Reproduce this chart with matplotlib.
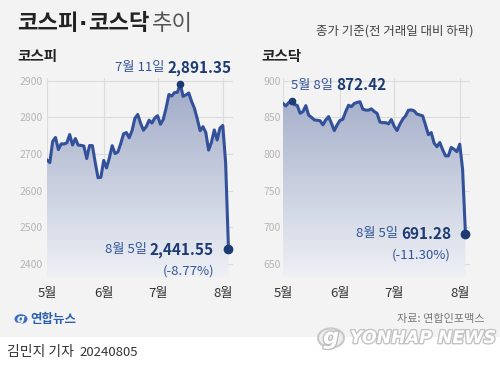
import numpy as np
import pandas as pd
import matplotlib
matplotlib.use("Agg")
import matplotlib.pyplot as plt
from matplotlib.colors import LinearSegmentedColormap
from matplotlib.patches import Rectangle, Circle
import matplotlib.patheffects as pe

plt.rcParams['font.family'] = ['Noto Sans CJK KR', 'DejaVu Sans']

# trading days 2024-05-02 .. 2024-08-05 (Korean holidays removed)
holidays = ['2024-05-06', '2024-05-15', '2024-06-06']
dates = pd.bdate_range('2024-05-02', '2024-08-05')
dates = dates[~dates.isin(pd.to_datetime(holidays))]

kospi = [2683.65, 2676.63, 2734.36, 2745.05, 2712.14, 2727.63, 2727.21, 2730.34, 2753.00, 2724.62,
         2742.14, 2724.18, 2723.46, 2721.81, 2687.60, 2722.99, 2722.85, 2677.30, 2635.44, 2636.52,
         2682.52, 2662.10, 2689.50, 2722.67, 2701.17, 2705.40, 2728.17, 2754.89, 2758.42, 2744.10,
         2763.92, 2797.33, 2807.63, 2784.06, 2764.73, 2774.39, 2792.05, 2784.26, 2797.82,
         2804.31, 2780.86, 2794.01, 2824.94, 2862.23, 2857.76, 2867.38, 2867.99, 2891.35, 2857.00,
         2860.92, 2866.09, 2843.09, 2824.35, 2795.46, 2763.51, 2774.52, 2758.72, 2710.65, 2731.90,
         2765.52, 2738.19, 2770.69,
         2777.68, 2676.19, 2441.55]

kosdaq = [868.93, 865.59, 870.15, 872.42, 867.48, 866.30, 855.60, 857.90, 866.00, 853.00,
          850.00, 846.50, 846.00, 845.40, 839.90, 846.50, 851.00, 842.00, 831.90, 839.90,
          845.80, 847.50, 858.00, 866.50, 864.70, 868.90, 870.40, 871.30, 861.20, 859.90,
          859.80, 861.60, 858.00, 855.50, 843.60, 842.80, 842.80, 841.20, 847.00,
          838.00, 831.99, 840.70, 847.50, 852.00, 859.70, 860.20, 858.90, 854.50, 853.30,
          852.00, 839.50, 826.50, 829.30, 815.00, 810.00, 815.70, 806.00, 797.60, 797.50,
          809.00, 806.50, 803.20,
          813.50, 779.30, 691.28]

kospi_ticks = [2400, 2500, 2600, 2700, 2800, 2900]
kosdaq_ticks = [650, 700, 750, 800, 850, 900]
month_labels = ['5월', '6월', '7월', '8월']

W, H = 500, 369
BG = '#f3f3f3'
LINE = '#33509a'
NAVY = '#1d3b73'
BLUE_TXT = '#345597'

fig = plt.figure(figsize=(W / 100, H / 100), dpi=100)
fig.patch.set_facecolor(BG)
fig.patches.append(Rectangle((0, 0), 1, (H - 337) / H, transform=fig.transFigure,
                             facecolor='white', edgecolor='none', zorder=0))

def px_axes(l, t, r, b):
    return fig.add_axes([l / W, 1 - b / H, (r - l) / W, (b - t) / H])

# month tick positions = first trading day of each month
xs = np.arange(len(dates))
month_pos = [int(np.argmax(dates.month == m)) for m in [5, 6, 7, 8]]

cmap = LinearSegmentedColormap.from_list('g', ['#eef0f5', '#9ea9c6'])

def panel(ax, vals, ticks, ylim, ypad):
    ax.set_facecolor('none')
    ax.set_xlim(0, 65.6)
    ax.set_ylim(*ylim)
    for s in ax.spines.values():
        s.set_visible(False)
    ax.set_yticks(ticks)
    ax.set_xticks(month_pos)
    ax.set_xticklabels(month_labels)
    ax.tick_params(axis='y', length=0, labelsize=7.5, labelcolor='#b5b5b5', pad=ypad)
    ax.tick_params(axis='x', length=0, labelsize=9.5, labelcolor='#333333', pad=7)
    ax.grid(True, color='#dcdcdc', lw=0.8)
    ax.set_axisbelow(True)
    poly = ax.fill_between(xs, vals, ylim[0], color='none')
    grad = np.linspace(0, 1, 256).reshape(-1, 1)
    im = ax.imshow(grad, cmap=cmap, aspect='auto', origin='lower',
                   extent=[0, 65.6, ylim[0], ylim[1]], zorder=1)
    im.set_clip_path(poly.get_paths()[0], transform=ax.transData)
    ax.plot(xs, vals, color=LINE, lw=2.2, zorder=3, solid_joinstyle='round')
    ax.plot(xs[-1], vals[-1], 'o', color=NAVY, ms=6, zorder=4)

ax1 = px_axes(47, 78, 233, 277)
panel(ax1, kospi, kospi_ticks, (2365, 2907), 3)
pk = int(np.argmax(kospi))
ax1.plot(xs[pk], kospi[pk], 'o', color=NAVY, ms=4.5, zorder=4)

ax2 = px_axes(283, 78, 470, 277)
panel(ax2, kosdaq, kosdaq_ticks, (632.3, 903.7), 1.5)
pq = int(np.argmax(kosdaq))
ax2.plot(xs[pq], kosdaq[pq], 'o', color=NAVY, ms=4.5, zorder=4)

def ftext(x, y, s, **kw):
    return fig.text(x / W, 1 - y / H, s, **kw)

fig.canvas.draw()
rend = fig.canvas.get_renderer()

def after(t, gap=0):
    return t.get_window_extent(rend).x1 + gap

def label(x, y, date_s, val_s, pct=None):
    t = ftext(x, y, date_s, ha='left', va='center', fontsize=9.5, color=BLUE_TXT)
    v = ftext(after(t, 3), y, val_s, ha='left', va='center', fontsize=11,
              fontweight='bold', color=NAVY)
    if pct is not None:
        ftext(after(v), y + 21, pct, ha='right', va='center', fontsize=9.5, color=BLUE_TXT)

label(115, 68, '7월 11일', f'{kospi[pk]:,.2f}')
label(105, 250, '8월 5일', f'{kospi[-1]:,.2f}', '(-8.77%)')
label(291, 85, '5월 8일', f'{kosdaq[pq]:,.2f}')
label(356, 234, '8월 5일', f'{kosdaq[-1]:,.2f}', '(-11.30%)')

# titles
t = ftext(17, 24, '코스피', ha='left', va='center', fontsize=16, fontweight='bold',
          color='#222222')
t = ftext(after(t, 0.5), 24, '·', ha='left', va='center', fontsize=16, fontweight='bold',
          color='#222222', family='DejaVu Sans')
t = ftext(after(t, 0.5), 24, '코스닥', ha='left', va='center', fontsize=16, fontweight='bold',
          color='#222222')
ftext(after(t, 3), 24, '추이', ha='left', va='center', fontsize=16, color='#555555')
ftext(473, 31, '종가 기준(전 거래일 대비 하락)', ha='right', va='center', fontsize=9,
      color='#444444')
ftext(17, 56, '코스피', ha='left', va='center', fontsize=10.5, fontweight='bold', color='#222222')
ftext(261, 56, '코스닥', ha='left', va='center', fontsize=10.5, fontweight='bold', color='#222222')

# footer
fig.patches.append(Circle((21 / W, 1 - 319 / H), 6.5 / W, transform=fig.transFigure,
                          facecolor='#3b6fc4', edgecolor='none'))
ftext(21, 319, 'g', ha='center', va='center', fontsize=8, color='white', style='italic',
      fontweight='bold', family='DejaVu Sans')
ftext(30, 319, '연합뉴스', ha='left', va='center', fontsize=9, fontweight='bold', color='#2a5fb0')
ftext(485, 319, '자료: 연합인포맥스', ha='right', va='center', fontsize=8, color='#777777')
ftext(7, 352, '김민지 기자', ha='left', va='center', fontsize=10, color='#333333')
ftext(79, 352, '20240805', ha='left', va='center', fontsize=9.5, color='#333333')

fig.patches.append(Circle((331 / W, 1 - 338 / H), 13 / W, transform=fig.transFigure,
                          facecolor='#eeeeee', edgecolor='#c8c8c8', lw=1.5))
ftext(331, 338, 'g', ha='center', va='center', fontsize=16, color='white', style='italic',
      fontweight='bold', family='DejaVu Sans',
      path_effects=[pe.withStroke(linewidth=2, foreground='#c0c0c0')])
ftext(350, 338, 'YONHAP NEWS', ha='left', va='center', fontsize=12.5, color='white',
      style='italic', fontweight='heavy', family='DejaVu Sans',
      path_effects=[pe.withStroke(linewidth=2, foreground='#c4c4c4')])

fig.savefig('out.png', dpi=100, facecolor=BG)
